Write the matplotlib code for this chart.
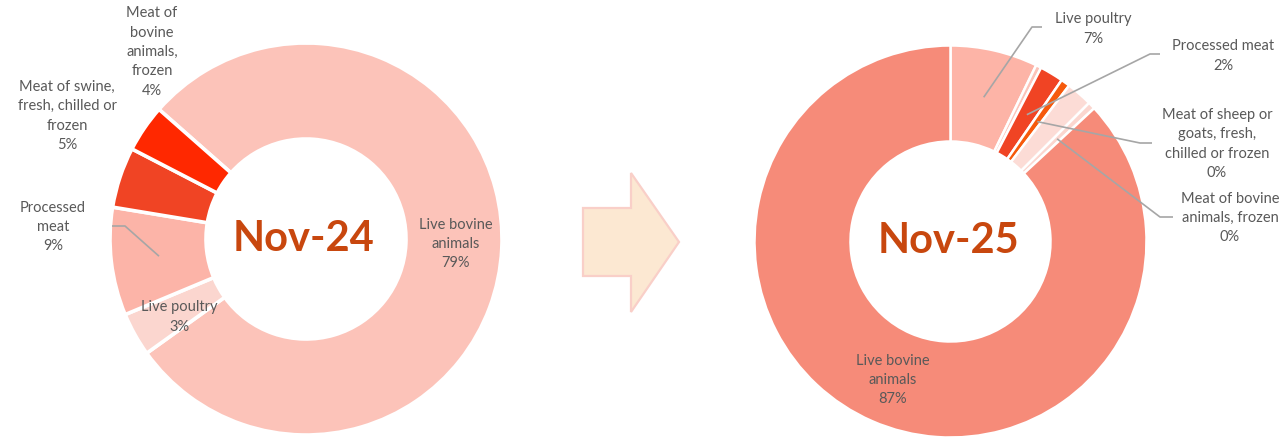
import numpy as np
import matplotlib
matplotlib.use("Agg")
import matplotlib.pyplot as plt
from matplotlib.patches import Polygon

# Nov-24 (clockwise, starting with live bovine animals)
left_names = ["Live bovine\nanimals", "Live poultry", "Processed\nmeat",
              "Meat of swine,\nfresh, chilled or\nfrozen", "Meat of\nbovine\nanimals,\nfrozen"]
left_values = [78.6, 3.6, 8.9, 5.0, 3.9]
left_pct = ["79%", "3%", "9%", "5%", "4%"]
left_colors = ["#FCC3B9", "#FBD6CF", "#FCB4A8", "#F04424", "#FF2800"]

# Nov-25 (clockwise, starting at 12 o'clock with live poultry)
right_names = ["Live poultry", None, "Processed meat",
               "Meat of sheep or\ngoats, fresh,\nchilled or frozen", None,
               "Meat of bovine\nanimals, frozen", "Live bovine\nanimals"]
right_values = [7.2, 0.45, 1.95, 0.75, 2.15, 0.6, 86.9]
right_pct = ["7%", None, "2%", "0%", None, "0%", "87%"]
right_colors = ["#FDB4A7", "#FCC3B8", "#F04424", "#F65A0C", "#FCDCD6", "#FBD6CF", "#F68B79"]

H = 440
GREY = "#595959"
LINE = "#A6A6A6"
FONT = ["Lato", "DejaVu Sans"]

fig = plt.figure(figsize=(12.8, 4.4), dpi=100)
ax = fig.add_axes([0, 0, 1, 1])

R, W = 196, 96


def donut(center, values, colors, start, lw):
    wedges, _ = ax.pie(values, colors=colors, radius=R, center=center,
                       startangle=start, counterclock=False,
                       wedgeprops=dict(width=W, edgecolor="white", linewidth=lw))
    return wedges


def label(x, y, text, pct):
    ax.text(x, H - y, text + "\n" + pct, ha="center", va="center", fontsize=10.5,
            color=GREY, family=FONT, linespacing=1.48)


def leader(center, wedge, pts):
    # pts: text-side points in picture coords, the last one joins the wedge
    a = np.deg2rad((wedge.theta1 + wedge.theta2) / 2)
    rm = R - W / 2
    xs = [p[0] for p in pts] + [center[0] + rm * np.cos(a)]
    ys = [H - p[1] for p in pts] + [center[1] + rm * np.sin(a)]
    ax.plot(xs, ys, color=LINE, lw=1.2, solid_capstyle="butt", zorder=5)


# left donut
cl = (306, H - 239)
wl = donut(cl, left_values, left_colors, 138.6, 2.6)
ax.text(304, H - 251, "Nov-24", ha="center", va="baseline", fontsize=30,
        fontweight="bold", color="#C8470E", family=FONT)
label(456, 244, left_names[0], left_pct[0])
label(179, 317, left_names[1], left_pct[1])
label(53, 227, left_names[2], left_pct[2])
label(67, 116, left_names[3], left_pct[3])
label(152, 52, left_names[4], left_pct[4])
leader(cl, wl[2], [(112, 226), (125, 226)])

# right donut
cr = (950.5, H - 241.5)
wr = donut(cr, right_values, right_colors, 90, 1.8)
ax.text(948, H - 253, "Nov-25", ha="center", va="baseline", fontsize=30,
        fontweight="bold", color="#C8470E", family=FONT)
label(1093, 29, right_names[0], right_pct[0])
label(1223, 56, right_names[2], right_pct[2])
label(1217, 144, right_names[3], right_pct[3])
label(1230, 218, right_names[5], right_pct[5])
label(893, 380, right_names[6], right_pct[6])
leader(cr, wr[0], [(1042, 27), (1032, 27)])
leader(cr, wr[2], [(1160, 54), (1150, 54)])
leader(cr, wr[3], [(1152, 143), (1140, 143)])
leader(cr, wr[5], [(1173, 217), (1160, 217)])

# arrow between the two months
arrow = [(583, 208), (631, 208), (631, 173), (679, 242), (631, 312), (631, 276), (583, 276)]
ax.add_patch(Polygon([(x, H - y) for x, y in arrow], closed=True,
                     facecolor="#FCE8D2", edgecolor="#F9CFC8", linewidth=1.6))

ax.set_xlim(0, 1280)
ax.set_ylim(0, H)
ax.set_aspect("equal")
ax.axis("off")

fig.savefig("out.png", dpi=100)
